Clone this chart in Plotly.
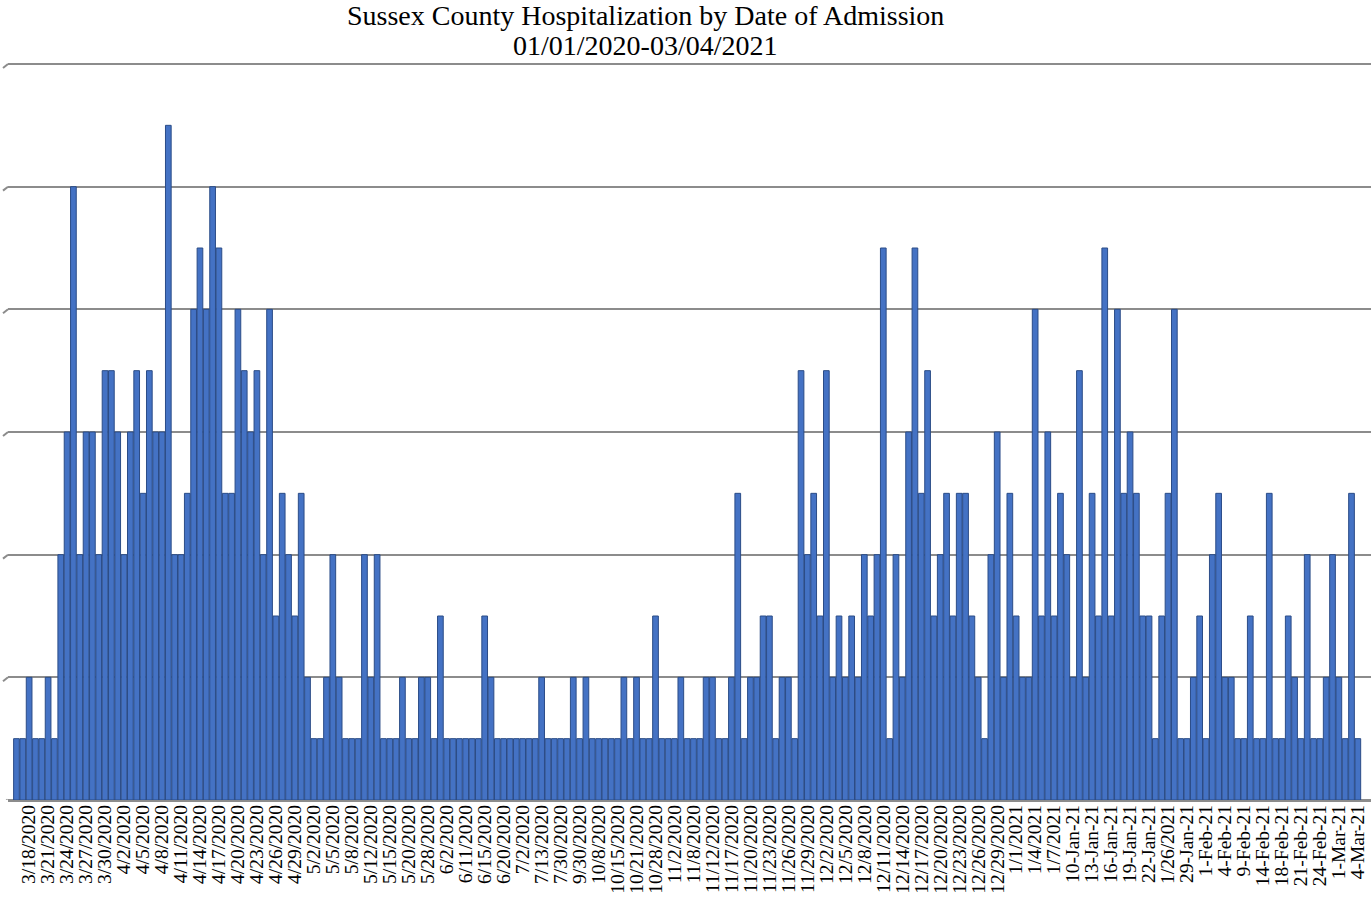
import plotly.graph_objects as go

title_line1 = "Sussex County Hospitalization by Date of Admission"
title_line2 = "01/01/2020-03/04/2021"

dates = [
    "3/16/2020", "3/17/2020", "3/18/2020", "3/19/2020", "3/20/2020", "3/21/2020", "3/22/2020", "3/23/2020",
    "3/24/2020", "3/25/2020", "3/26/2020", "3/27/2020", "3/28/2020", "3/29/2020", "3/30/2020", "3/31/2020",
    "4/1/2020", "4/2/2020", "4/3/2020", "4/4/2020", "4/5/2020", "4/6/2020", "4/7/2020", "4/8/2020",
    "4/9/2020", "4/10/2020", "4/11/2020", "4/12/2020", "4/13/2020", "4/14/2020", "4/15/2020", "4/16/2020",
    "4/17/2020", "4/18/2020", "4/19/2020", "4/20/2020", "4/21/2020", "4/22/2020", "4/23/2020", "4/24/2020",
    "4/25/2020", "4/26/2020", "4/27/2020", "4/28/2020", "4/29/2020", "4/30/2020", "5/1/2020", "5/2/2020",
    "5/3/2020", "5/4/2020", "5/5/2020", "5/6/2020", "5/7/2020", "5/8/2020", "5/10/2020", "5/11/2020",
    "5/12/2020", "5/13/2020", "5/14/2020", "5/15/2020", "5/18/2020", "5/19/2020", "5/20/2020", "5/22/2020",
    "5/26/2020", "5/28/2020", "5/29/2020", "6/1/2020", "6/2/2020", "6/4/2020", "6/8/2020", "6/11/2020",
    "6/12/2020", "6/14/2020", "6/15/2020", "6/16/2020", "6/18/2020", "6/20/2020", "6/24/2020", "6/29/2020",
    "7/2/2020", "7/6/2020", "7/9/2020", "7/13/2020", "7/20/2020", "7/25/2020", "7/30/2020", "8/12/2020",
    "9/2/2020", "9/30/2020", "10/2/2020", "10/5/2020", "10/8/2020", "10/10/2020", "10/13/2020", "10/15/2020",
    "10/17/2020", "10/19/2020", "10/21/2020", "10/23/2020", "10/26/2020", "10/28/2020", "10/30/2020", "11/1/2020",
    "11/2/2020", "11/4/2020", "11/6/2020", "11/8/2020", "11/10/2020", "11/11/2020", "11/12/2020", "11/14/2020",
    "11/16/2020", "11/17/2020", "11/18/2020", "11/19/2020", "11/20/2020", "11/21/2020", "11/22/2020", "11/23/2020",
    "11/24/2020", "11/25/2020", "11/26/2020", "11/27/2020", "11/28/2020", "11/29/2020", "11/30/2020", "12/1/2020",
    "12/2/2020", "12/3/2020", "12/4/2020", "12/5/2020", "12/6/2020", "12/7/2020", "12/8/2020", "12/9/2020",
    "12/10/2020", "12/11/2020", "12/12/2020", "12/13/2020", "12/14/2020", "12/15/2020", "12/16/2020", "12/17/2020",
    "12/18/2020", "12/19/2020", "12/20/2020", "12/21/2020", "12/22/2020", "12/23/2020", "12/24/2020", "12/25/2020",
    "12/26/2020", "12/27/2020", "12/28/2020", "12/29/2020", "12/30/2020", "12/31/2020", "1/1/2021", "1/2/2021",
    "1/3/2021", "1/4/2021", "1/5/2021", "1/6/2021", "1/7/2021", "8-Jan-21", "9-Jan-21", "10-Jan-21",
    "11-Jan-21", "12-Jan-21", "13-Jan-21", "14-Jan-21", "15-Jan-21", "16-Jan-21", "17-Jan-21", "18-Jan-21",
    "19-Jan-21", "20-Jan-21", "21-Jan-21", "22-Jan-21", "23-Jan-21", "25-Jan-21", "1/26/2021", "27-Jan-21",
    "28-Jan-21", "29-Jan-21", "30-Jan-21", "31-Jan-21", "1-Feb-21", "2-Feb-21", "3-Feb-21", "4-Feb-21",
    "5-Feb-21", "8-Feb-21", "9-Feb-21", "10-Feb-21", "12-Feb-21", "14-Feb-21", "15-Feb-21", "17-Feb-21",
    "18-Feb-21", "19-Feb-21", "20-Feb-21", "21-Feb-21", "22-Feb-21", "23-Feb-21", "24-Feb-21", "25-Feb-21",
    "26-Feb-21", "1-Mar-21", "2-Mar-21", "3-Mar-21", "4-Mar-21",
]

admissions = [
    1, 1, 2, 1, 1, 2, 1, 4, 6, 10, 4, 6, 6, 4, 7, 7, 6, 4, 6, 7,
    5, 7, 6, 6, 11, 4, 4, 5, 8, 9, 8, 10, 9, 5, 5, 8, 7, 6, 7, 4,
    8, 3, 5, 4, 3, 5, 2, 1, 1, 2, 4, 2,
    1, 1, 1, 4, 2, 4, 1, 1, 1, 2, 1, 1, 2, 2, 1, 3, 1, 1, 1, 1,
    1, 1, 3, 2, 1, 1, 1, 1, 1, 1, 1, 2, 1, 1,
    1, 1, 2, 1, 2, 1, 1, 1, 1, 1, 2, 1, 2, 1, 1, 3, 1, 1, 1, 2,
    1, 1, 1, 2, 2, 1, 1, 2, 5, 1, 2, 2, 3, 3, 1, 2,
    2, 1, 7, 4, 5, 3, 7, 2, 3, 2, 3, 2, 4, 3, 4, 9, 1, 4, 2, 6,
    9, 5, 7, 3, 4, 5, 3, 5, 5, 3, 2, 1, 4, 6,
    2, 5, 3, 2, 2, 8, 3, 6, 3, 5, 4, 2, 7, 2, 5, 3, 9, 3, 8, 5,
    6, 5, 3, 3, 1, 3, 5, 8, 1, 1, 2, 3, 1, 4, 5,
    2, 2, 1, 1, 3, 1, 1, 5, 1, 1, 3, 2, 1, 4, 1, 1, 2, 4, 2, 1, 5, 1,
]

# every third category carries a label, starting with 3/18/2020
tick_labels = dates[2::3]

grid_values = [0, 2, 4, 6, 8, 10, 12]

assert len(dates) == len(admissions), (len(dates), len(admissions))

FONT = "Liberation Serif, Times New Roman, serif"

fig = go.Figure()
fig.add_trace(go.Bar(
    x=dates,
    y=admissions,
    marker=dict(color="#4472C4", line=dict(color="#2B4C87", width=1)),
    hoverinfo="x+y",
))

W, H = 1371, 902
L, R, T, B = 8, 0, 60, 102
n = len(dates)
# bars occupy x = 13.3 .. 1361 px; plot area spans 8 .. 1371 px
pitch = (1361 - 13.3) / n
x_lo = -0.5 - (13.3 - L) / pitch
x_hi = (n - 0.5) + (W - R - 1361) / pitch

plot_h = H - T - B
# value 12 sits at y = 64 px, value 0 at y = 800 px
px_per_unit = (800 - 64) / 12
y_hi = plot_h / px_per_unit

shapes = []
for g in grid_values[1:]:
    shapes.append(dict(type="line", xref="paper", yref="y",
                       x0=-5 / (W - L - R), y0=g - 0.065, x1=0, y1=g,
                       line=dict(color="#8C8C8C", width=2)))
shapes.append(dict(type="line", xref="paper", yref="y",
                   x0=-5 / (W - L - R), y0=-0.07, x1=0, y1=0,
                   line=dict(color="#8C8C8C", width=3)))

fig.update_layout(
    width=W, height=H,
    margin=dict(l=L, r=R, t=T, b=B, pad=0),
    paper_bgcolor="white", plot_bgcolor="white",
    showlegend=False,
    bargap=0.1,
    font=dict(family=FONT, color="black"),
    xaxis=dict(
        type="category",
        range=[x_lo, x_hi],
        tickmode="array",
        tickvals=tick_labels,
        ticktext=tick_labels,
        tickangle=-90,
        tickfont=dict(family=FONT, size=19.5, color="black"),
        showgrid=False,
        showline=False,
        ticks="",
        zeroline=False,
        fixedrange=True,
    ),
    yaxis=dict(
        range=[0, y_hi],
        tickmode="array",
        tickvals=grid_values,
        showticklabels=False,
        showgrid=True,
        gridcolor="#8C8C8C",
        gridwidth=2,
        zeroline=True,
        zerolinecolor="#8C8C8C",
        zerolinewidth=3,
        showline=False,
        ticks="",
        fixedrange=True,
    ),
    shapes=shapes,
    annotations=[
        dict(text=title_line1, xref="paper", yref="paper",
             x=(645 - L) / (W - L - R), y=(H - B - 16) / plot_h,
             xanchor="center", yanchor="middle", showarrow=False,
             font=dict(family=FONT, size=28, color="black")),
        dict(text=title_line2, xref="paper", yref="paper",
             x=(645 - L) / (W - L - R), y=(H - B - 46) / plot_h,
             xanchor="center", yanchor="middle", showarrow=False,
             font=dict(family=FONT, size=28, color="black")),
    ],
)

fig.write_html(
    "out.html",
    config={"displayModeBar": False},
    post_script="document.body.style.margin='0';document.body.style.padding='0';"
                "document.body.style.overflow='hidden';",
)
